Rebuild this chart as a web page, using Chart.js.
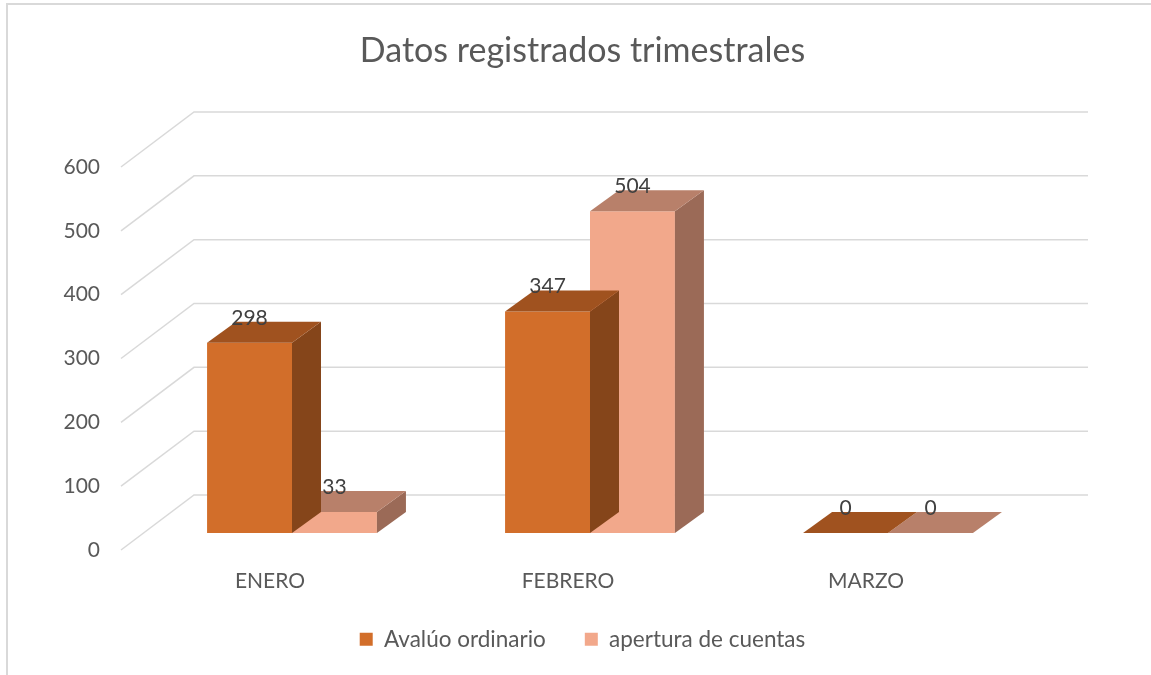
<!DOCTYPE html>
<html>
<head>
<meta charset="utf-8">
<script src="https://cdn.jsdelivr.net/npm/chart.js@4.4.1/dist/chart.umd.min.js"></script>
<style>
  body { margin: 0; background: #fff; }
</style>
</head>
<body>
<canvas id="chart" width="1151" height="675"></canvas>
<script>
const categories = ['ENERO', 'FEBRERO', 'MARZO'];
const avaluoOrdinario = [298, 347, 0];
const aperturaCuentas = [33, 504, 0];
const yTicks = [0, 100, 200, 300, 400, 500, 600];

// 3D look: bar depth, back wall and front edge offsets (px, from the bar front plane)
const DEPTH = { dx: 29, dy: -21 };
const WALL = { dx: 51, dy: -38 };
const FLOOR = { dx: -22, dy: 17 };
const FONT = 'Lato';

const bars3d = {
    id: 'bars3d',
    beforeDraw(chart) {
        const ctx = chart.ctx;
        ctx.save();
        ctx.fillStyle = '#fff';
        ctx.fillRect(0, 0, chart.width, chart.height);
        ctx.strokeStyle = '#D9D9D9';
        ctx.lineWidth = 2;
        ctx.beginPath();
        ctx.moveTo(7, chart.height);
        ctx.lineTo(7, 4);
        ctx.lineTo(chart.width, 4);
        ctx.stroke();
        ctx.restore();
    },
    beforeDatasetsDraw(chart) {
        const { ctx, chartArea, scales } = chart;
        ctx.save();
        ctx.strokeStyle = '#D9D9D9';
        ctx.lineWidth = 1.5;
        yTicks.forEach(v => {
            const y = scales.y.getPixelForValue(v);
            ctx.beginPath();
            ctx.moveTo(chartArea.left + FLOOR.dx, y + FLOOR.dy);
            ctx.lineTo(chartArea.left + WALL.dx, y + WALL.dy);
            ctx.lineTo(chartArea.right + WALL.dx, y + WALL.dy);
            ctx.stroke();
        });
        ctx.restore();
    },
    afterDatasetDraw(chart, args) {
        const ctx = chart.ctx;
        const ds = chart.data.datasets[args.index];
        ctx.save();
        args.meta.data.forEach(bar => {
            const { x, y, base, width } = bar.getProps(['x', 'y', 'base', 'width'], true);
            const l = x - width / 2;
            const r = x + width / 2;
            // side face
            ctx.fillStyle = ds.sideColor;
            ctx.beginPath();
            ctx.moveTo(r, y);
            ctx.lineTo(r + DEPTH.dx, y + DEPTH.dy);
            ctx.lineTo(r + DEPTH.dx, base + DEPTH.dy);
            ctx.lineTo(r, base);
            ctx.closePath();
            ctx.fill();
            // top face
            ctx.fillStyle = ds.topColor;
            ctx.beginPath();
            ctx.moveTo(l, y);
            ctx.lineTo(r, y);
            ctx.lineTo(r + DEPTH.dx, y + DEPTH.dy);
            ctx.lineTo(l + DEPTH.dx, y + DEPTH.dy);
            ctx.closePath();
            ctx.fill();
        });
        ctx.restore();
    },
    afterDatasetsDraw(chart) {
        const ctx = chart.ctx;
        ctx.save();
        ctx.font = `21px ${FONT}`;
        ctx.fillStyle = '#404040';
        ctx.textAlign = 'center';
        ctx.textBaseline = 'middle';
        chart.data.datasets.forEach((ds, i) => {
            chart.getDatasetMeta(i).data.forEach((bar, j) => {
                ctx.fillText(String(ds.data[j]), bar.x, bar.y - 25);
            });
        });
        ctx.restore();
    }
};

new Chart(document.getElementById('chart'), {
    type: 'bar',
    data: {
        labels: categories,
        datasets: [
            {
                label: 'Avalúo ordinario',
                data: avaluoOrdinario,
                backgroundColor: '#D26E2A',
                topColor: '#A0521F',
                sideColor: '#85451A'
            },
            {
                label: 'apertura de cuentas',
                data: aperturaCuentas,
                backgroundColor: '#F2A88B',
                topColor: '#B8806A',
                sideColor: '#9B6A57'
            }
        ]
    },
    options: {
        responsive: false,
        animation: false,
        events: [],
        categoryPercentage: 0.57,
        barPercentage: 1,
        layout: { padding: { left: 14, right: 0, top: 0, bottom: 14.5 } },
        scales: {
            x: {
                grid: { display: false, drawTicks: false },
                border: { display: false },
                ticks: {
                    color: '#595959',
                    font: { family: FONT, size: 21 },
                    padding: 36,
                    labelOffset: -22
                },
                afterFit: axis => { axis.height = 56; }
            },
            y: {
                min: 0,
                max: 600,
                grid: { display: false, drawTicks: false },
                border: { display: false },
                afterBuildTicks: axis => { axis.ticks = yTicks.map(v => ({ value: v })); },
                ticks: {
                    color: '#595959',
                    font: { family: FONT, size: 21 },
                    padding: 43,
                    labelOffset: 17
                },
                afterFit: axis => { axis.width = 129; }
            },
            spacer: {
                type: 'linear',
                position: 'right',
                grid: { display: false, drawTicks: false },
                border: { display: false },
                ticks: { display: false },
                afterFit: axis => { axis.width = 114; }
            }
        },
        plugins: {
            title: {
                display: true,
                text: 'Datos registrados trimestrales',
                color: '#595959',
                font: { family: FONT, size: 34, weight: 'normal' },
                padding: { top: 30.6, bottom: 78.6 }
            },
            legend: {
                position: 'bottom',
                labels: {
                    color: '#595959',
                    font: { family: FONT, size: 22.5 },
                    boxWidth: 13,
                    boxHeight: 13,
                    padding: 39
                }
            },
            tooltip: { enabled: false }
        }
    },
    plugins: [bars3d]
});
</script>
</body>
</html>
